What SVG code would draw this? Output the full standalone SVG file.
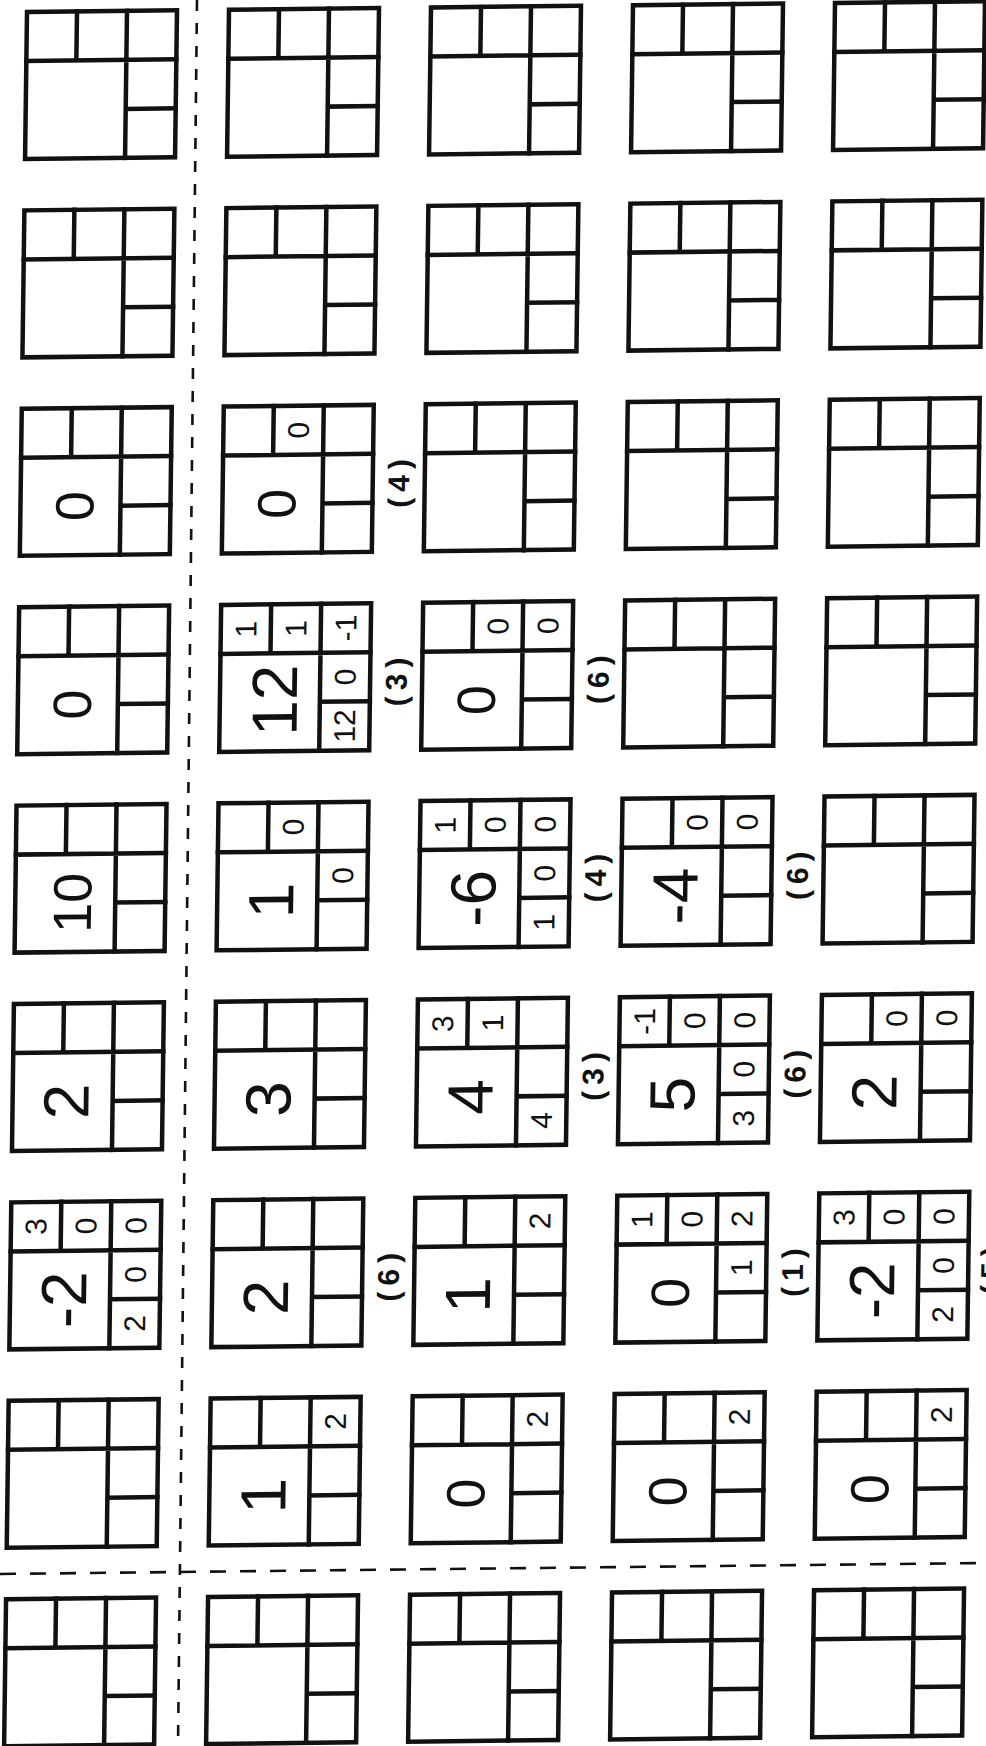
<svg xmlns="http://www.w3.org/2000/svg" xmlns:xlink="http://www.w3.org/1999/xlink" width="986" height="1746" viewBox="0 0 986 1746">
<style>
.ln{fill:none;stroke:#111;stroke-width:4.5;stroke-linecap:square;stroke-linejoin:miter}
.dash{fill:none;stroke:#111;stroke-width:2.6}
text{font-family:"Liberation Sans",Arial,sans-serif;fill:#111;text-anchor:middle;dominant-baseline:central}
.big{font-size:54px}
.bg2{font-size:64px}
.sm{font-size:30px}
.lb{font-size:30px;font-weight:bold;letter-spacing:6px}
</style>
<defs>
<g id="cell">
<rect class="ln" x="0" y="0" width="150" height="147"/>
<path class="ln" d="M0 49H150M100 0V147M50 0V49M100 98H150"/>
</g>
</defs>
<rect width="986" height="1746" fill="#fff"/>
<g id="connectors">
<line class="dash" x1="197" y1="0" x2="178" y2="1746" stroke-dasharray="11 12"/>
<line class="dash" x1="0" y1="1574" x2="986" y2="1563" stroke-dasharray="16 14"/>
</g>
<g id="grid" transform="matrix(1 -0.0112 -0.0132 1 27 12)">
<!-- row 0 -->
<g id="r0c0" transform="translate(0,0)"><use href="#cell"/></g>
<g id="r0c1" transform="translate(202,0)"><use href="#cell"/></g>
<g id="r0c2" transform="translate(404,0)"><use href="#cell"/></g>
<g id="r0c3" transform="translate(606,0)"><use href="#cell"/></g>
<g id="r0c4" transform="translate(808,0)"><use href="#cell"/></g>
<!-- row 1 -->
<g id="r1c0" transform="translate(0,198.4)"><use href="#cell"/></g>
<g id="r1c1" transform="translate(202,198.4)"><use href="#cell"/></g>
<g id="r1c2" transform="translate(404,198.4)"><use href="#cell"/></g>
<g id="r1c3" transform="translate(606,198.4)"><use href="#cell"/></g>
<g id="r1c4" transform="translate(808,198.4)"><use href="#cell"/></g>
<!-- row 2 -->
<g id="r2c0" transform="translate(0,396.8)"><use href="#cell"/>
<text class="big" x="54" y="98" transform="rotate(-90 54 98)">0</text></g>
<g id="r2c1" transform="translate(202,396.8)"><use href="#cell"/>
<text class="sm" x="75" y="24.5" transform="rotate(-90 75 24.5)">0</text>
<text class="big" x="54" y="98" transform="rotate(-90 54 98)">0</text>
<text class="lb" x="176" y="76" transform="rotate(-90 176 76)">(4)</text></g>
<g id="r2c2" transform="translate(404,396.8)"><use href="#cell"/></g>
<g id="r2c3" transform="translate(606,396.8)"><use href="#cell"/></g>
<g id="r2c4" transform="translate(808,396.8)"><use href="#cell"/></g>
<!-- row 3 -->
<g id="r3c0" transform="translate(0,595.2)"><use href="#cell"/>
<text class="big" x="54" y="98" transform="rotate(-90 54 98)">0</text></g>
<g id="r3c1" transform="translate(202,595.2)"><use href="#cell"/>
<text class="sm" x="25" y="24.5" transform="rotate(-90 25 24.5)">1</text>
<text class="sm" x="75" y="24.5" transform="rotate(-90 75 24.5)">1</text>
<text class="sm" x="125" y="24.5" transform="rotate(-90 125 24.5)">-1</text>
<text class="bg2" x="55" y="96" transform="rotate(-90 55 96)">12</text>
<text class="sm" x="125" y="73.5" transform="rotate(-90 125 73.5)">0</text>
<text class="sm" x="125" y="122.5" transform="rotate(-90 125 122.5)">12</text>
<text class="lb" x="176" y="76" transform="rotate(-90 176 76)">(3)</text></g>
<g id="r3c2" transform="translate(404,595.2)"><use href="#cell"/>
<text class="sm" x="75" y="24.5" transform="rotate(-90 75 24.5)">0</text>
<text class="sm" x="125" y="24.5" transform="rotate(-90 125 24.5)">0</text>
<text class="big" x="54" y="98" transform="rotate(-90 54 98)">0</text>
<text class="lb" x="176" y="76" transform="rotate(-90 176 76)">(6)</text></g>
<g id="r3c3" transform="translate(606,595.2)"><use href="#cell"/></g>
<g id="r3c4" transform="translate(808,595.2)"><use href="#cell"/></g>
<!-- row 4 -->
<g id="r4c0" transform="translate(0,793.6)"><use href="#cell"/>
<text class="big" x="57" y="98" transform="rotate(-90 57 98)">10</text></g>
<g id="r4c1" transform="translate(202,793.6)"><use href="#cell"/>
<text class="sm" x="75" y="24.5" transform="rotate(-90 75 24.5)">0</text>
<text class="bg2" x="54" y="98" transform="rotate(-90 54 98)">1</text>
<text class="sm" x="125" y="73.5" transform="rotate(-90 125 73.5)">0</text></g>
<g id="r4c2" transform="translate(404,793.6)"><use href="#cell"/>
<text class="sm" x="25" y="24.5" transform="rotate(-90 25 24.5)">1</text>
<text class="sm" x="75" y="24.5" transform="rotate(-90 75 24.5)">0</text>
<text class="sm" x="125" y="24.5" transform="rotate(-90 125 24.5)">0</text>
<text class="bg2" x="54" y="98" transform="rotate(-90 54 98)">-6</text>
<text class="sm" x="125" y="73.5" transform="rotate(-90 125 73.5)">0</text>
<text class="sm" x="125" y="122.5" transform="rotate(-90 125 122.5)">1</text>
<text class="lb" x="176" y="76" transform="rotate(-90 176 76)">(4)</text></g>
<g id="r4c3" transform="translate(606,793.6)"><use href="#cell"/>
<text class="sm" x="75" y="24.5" transform="rotate(-90 75 24.5)">0</text>
<text class="sm" x="125" y="24.5" transform="rotate(-90 125 24.5)">0</text>
<text class="bg2" x="54" y="98" transform="rotate(-90 54 98)">-4</text>
<text class="lb" x="176" y="76" transform="rotate(-90 176 76)">(6)</text></g>
<g id="r4c4" transform="translate(808,793.6)"><use href="#cell"/></g>
<!-- row 5 -->
<g id="r5c0" transform="translate(0,992)"><use href="#cell"/>
<text class="bg2" x="54" y="98" transform="rotate(-90 54 98)">2</text></g>
<g id="r5c1" transform="translate(202,992)"><use href="#cell"/>
<text class="bg2" x="54" y="98" transform="rotate(-90 54 98)">3</text></g>
<g id="r5c2" transform="translate(404,992)"><use href="#cell"/>
<text class="sm" x="25" y="24.5" transform="rotate(-90 25 24.5)">3</text>
<text class="sm" x="75" y="24.5" transform="rotate(-90 75 24.5)">1</text>
<text class="bg2" x="54" y="98" transform="rotate(-90 54 98)">4</text>
<text class="sm" x="125" y="122.5" transform="rotate(-90 125 122.5)">4</text>
<text class="lb" x="176" y="76" transform="rotate(-90 176 76)">(3)</text></g>
<g id="r5c3" transform="translate(606,992)"><use href="#cell"/>
<text class="sm" x="25" y="24.5" transform="rotate(-90 25 24.5)">-1</text>
<text class="sm" x="75" y="24.5" transform="rotate(-90 75 24.5)">0</text>
<text class="sm" x="125" y="24.5" transform="rotate(-90 125 24.5)">0</text>
<text class="bg2" x="54" y="98" transform="rotate(-90 54 98)">5</text>
<text class="sm" x="125" y="73.5" transform="rotate(-90 125 73.5)">0</text>
<text class="sm" x="125" y="122.5" transform="rotate(-90 125 122.5)">3</text>
<text class="lb" x="176" y="76" transform="rotate(-90 176 76)">(6)</text></g>
<g id="r5c4" transform="translate(808,992)"><use href="#cell"/>
<text class="sm" x="75" y="24.5" transform="rotate(-90 75 24.5)">0</text>
<text class="sm" x="125" y="24.5" transform="rotate(-90 125 24.5)">0</text>
<text class="bg2" x="54" y="98" transform="rotate(-90 54 98)">2</text></g>
<!-- row 6 -->
<g id="r6c0" transform="translate(0,1190.4)"><use href="#cell"/>
<text class="sm" x="25" y="24.5" transform="rotate(-90 25 24.5)">3</text>
<text class="sm" x="75" y="24.5" transform="rotate(-90 75 24.5)">0</text>
<text class="sm" x="125" y="24.5" transform="rotate(-90 125 24.5)">0</text>
<text class="bg2" x="54" y="98" transform="rotate(-90 54 98)">-2</text>
<text class="sm" x="125" y="73.5" transform="rotate(-90 125 73.5)">0</text>
<text class="sm" x="125" y="122.5" transform="rotate(-90 125 122.5)">2</text></g>
<g id="r6c1" transform="translate(202,1190.4)"><use href="#cell"/>
<text class="bg2" x="54" y="98" transform="rotate(-90 54 98)">2</text>
<text class="lb" x="176" y="76" transform="rotate(-90 176 76)">(6)</text></g>
<g id="r6c2" transform="translate(404,1190.4)"><use href="#cell"/>
<text class="sm" x="125" y="24.5" transform="rotate(-90 125 24.5)">2</text>
<text class="bg2" x="54" y="98" transform="rotate(-90 54 98)">1</text></g>
<g id="r6c3" transform="translate(606,1190.4)"><use href="#cell"/>
<text class="sm" x="25" y="24.5" transform="rotate(-90 25 24.5)">1</text>
<text class="sm" x="75" y="24.5" transform="rotate(-90 75 24.5)">0</text>
<text class="sm" x="125" y="24.5" transform="rotate(-90 125 24.5)">2</text>
<text class="big" x="54" y="98" transform="rotate(-90 54 98)">0</text>
<text class="sm" x="125" y="73.5" transform="rotate(-90 125 73.5)">1</text>
<text class="lb" x="176" y="76" transform="rotate(-90 176 76)">(1)</text></g>
<g id="r6c4" transform="translate(808,1190.4)"><use href="#cell"/>
<text class="sm" x="25" y="24.5" transform="rotate(-90 25 24.5)">3</text>
<text class="sm" x="75" y="24.5" transform="rotate(-90 75 24.5)">0</text>
<text class="sm" x="125" y="24.5" transform="rotate(-90 125 24.5)">0</text>
<text class="bg2" x="54" y="98" transform="rotate(-90 54 98)">-2</text>
<text class="sm" x="125" y="73.5" transform="rotate(-90 125 73.5)">0</text>
<text class="sm" x="125" y="122.5" transform="rotate(-90 125 122.5)">2</text>
<text class="lb" x="173" y="76" transform="rotate(-90 173 76)">(5)</text></g>
<!-- row 7 -->
<g id="r7c0" transform="translate(0,1388.8)"><use href="#cell"/></g>
<g id="r7c1" transform="translate(202,1388.8)"><use href="#cell"/>
<text class="sm" x="125" y="24.5" transform="rotate(-90 125 24.5)">2</text>
<text class="bg2" x="54" y="98" transform="rotate(-90 54 98)">1</text></g>
<g id="r7c2" transform="translate(404,1388.8)"><use href="#cell"/>
<text class="sm" x="125" y="24.5" transform="rotate(-90 125 24.5)">2</text>
<text class="big" x="54" y="98" transform="rotate(-90 54 98)">0</text></g>
<g id="r7c3" transform="translate(606,1388.8)"><use href="#cell"/>
<text class="sm" x="125" y="24.5" transform="rotate(-90 125 24.5)">2</text>
<text class="big" x="54" y="98" transform="rotate(-90 54 98)">0</text></g>
<g id="r7c4" transform="translate(808,1388.8)"><use href="#cell"/>
<text class="sm" x="125" y="24.5" transform="rotate(-90 125 24.5)">2</text>
<text class="big" x="54" y="98" transform="rotate(-90 54 98)">0</text></g>
<!-- row 8 -->
<g id="r8c0" transform="translate(0,1587.2)"><use href="#cell"/></g>
<g id="r8c1" transform="translate(202,1587.2)"><use href="#cell"/></g>
<g id="r8c2" transform="translate(404,1587.2)"><use href="#cell"/></g>
<g id="r8c3" transform="translate(606,1587.2)"><use href="#cell"/></g>
<g id="r8c4" transform="translate(808,1587.2)"><use href="#cell"/></g>
</g>
</svg>
